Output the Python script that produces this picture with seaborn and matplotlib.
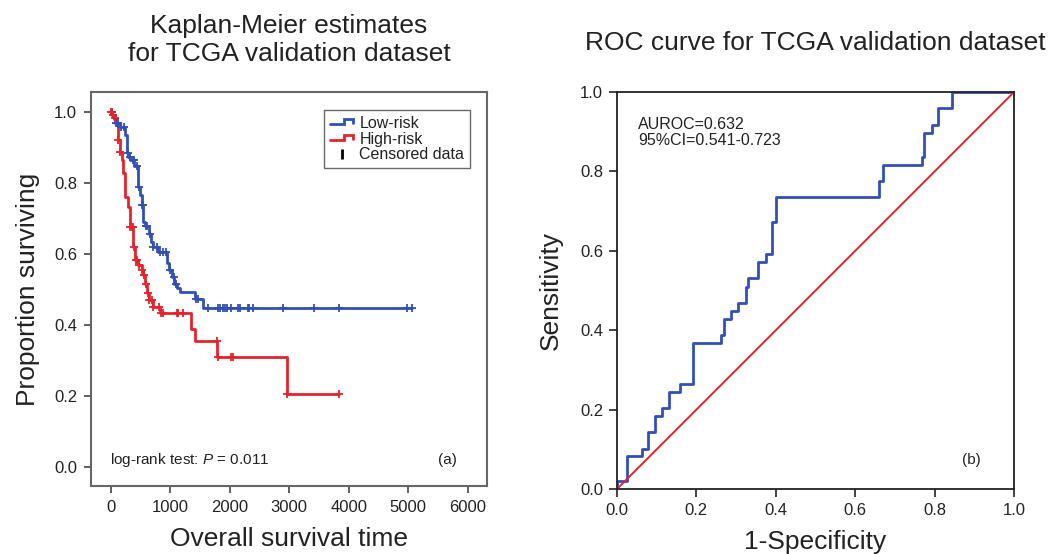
import numpy as np
import pandas as pd
import matplotlib
matplotlib.use("Agg")
import matplotlib.pyplot as plt
from matplotlib.lines import Line2D
from matplotlib.legend_handler import HandlerBase
import seaborn as sns

# ---------- DATA ----------
# Kaplan-Meier step points: time, survival level from that time on
low_times = [0, 20, 50, 80, 150, 240, 268, 300, 330, 400, 465, 492, 521, 548, 580,
             649, 677, 716, 800, 951, 985, 1025, 1065, 1120, 1166, 1420, 1555, 5059]
low_surv = [1.0, 0.99, 0.98, 0.968, 0.958, 0.935, 0.885, 0.872, 0.866, 0.848, 0.79,
            0.765, 0.737, 0.69, 0.68, 0.655, 0.635, 0.62, 0.605, 0.575, 0.555, 0.536,
            0.517, 0.505, 0.493, 0.473, 0.448, 0.448]
low_censored = [17, 44, 89, 128, 168, 229, 296, 324, 370, 397, 437, 481, 521, 538, 593,
                615, 660, 716, 773, 829, 884, 924, 997, 1064, 1097, 1434, 1472, 1630,
                1797, 1835, 1891, 1924, 1948, 2015, 2143, 2171, 2301, 2328, 2385, 2890,
                3422, 3837, 4975, 5059]

high_times = [0, 30, 70, 100, 128, 156, 185, 212, 240, 296, 324, 380, 408, 464, 521,
              548, 577, 610, 650, 716, 830, 1344, 1417, 1792, 2958, 3837]
high_surv = [1.0, 0.99, 0.983, 0.963, 0.921, 0.888, 0.865, 0.827, 0.761, 0.733, 0.677,
             0.62, 0.583, 0.569, 0.555, 0.541, 0.517, 0.489, 0.47, 0.452, 0.433, 0.39,
             0.356, 0.309, 0.206, 0.206]
high_censored = [10, 20, 45, 72, 128, 156, 324, 352, 370, 395, 420, 437, 481, 525, 555,
                 590, 620, 650, 690, 720, 817, 845, 874, 1109, 1137, 1210, 1781, 1800,
                 2017, 2050, 2960, 3837]

# ROC corner points (1-specificity, sensitivity)
roc_fpr = [0.0, 0.0, 0.026, 0.062, 0.079, 0.096, 0.114, 0.132, 0.159, 0.192, 0.262,
           0.270, 0.287, 0.306, 0.324, 0.331, 0.356, 0.375, 0.391, 0.400, 0.661, 0.669,
           0.767, 0.774, 0.793, 0.809, 0.845, 1.0]
roc_tpr = [0.0, 0.02, 0.082, 0.102, 0.143, 0.184, 0.204, 0.245, 0.265, 0.367, 0.388,
           0.429, 0.449, 0.469, 0.51, 0.531, 0.571, 0.592, 0.673, 0.735, 0.776, 0.816,
           0.837, 0.898, 0.918, 0.959, 1.0, 1.0]
chance = [0.0, 1.0]

BLUE = "#3050B8"
RED = "#E8222B"
TEXT = "#222222"


def surv_at(times, surv, t):
    idx = np.searchsorted(times, t, side="right") - 1
    return np.asarray(surv)[idx]


class StepHandler(HandlerBase):
    # little step-shaped legend icon, like the original figure
    def create_artists(self, legend, orig_handle, xdescent, ydescent, width, height, fontsize, trans):
        xs = np.array([0.0, 0.6, 0.6, 0.95, 0.95]) * width - xdescent
        ys = np.array([0.3, 0.3, 0.75, 0.75, 0.45]) * height - ydescent
        line = Line2D(xs, ys, color=orig_handle.get_color(), lw=2.0, solid_joinstyle="miter")
        line.set_transform(trans)
        return [line]


sns.set_style("ticks")
plt.rcParams["font.family"] = ["Liberation Sans", "DejaVu Sans"]
plt.rcParams["mathtext.fontset"] = "custom"
plt.rcParams["mathtext.rm"] = "Liberation Sans"
plt.rcParams["mathtext.it"] = "Liberation Sans:italic"
plt.rcParams["text.color"] = TEXT
plt.rcParams["axes.labelcolor"] = TEXT
plt.rcParams["xtick.color"] = TEXT
plt.rcParams["ytick.color"] = TEXT

fig = plt.figure(figsize=(10.52, 5.54), dpi=100)
ax1 = fig.add_axes([0.0865, 0.1227, 0.3764, 0.7112])
ax2 = fig.add_axes([0.5865, 0.1173, 0.3774, 0.7166])

# ---------- (a) Kaplan-Meier ----------
km_df = pd.concat([
    pd.DataFrame({"time": low_times, "surv": low_surv, "group": "Low-risk"}),
    pd.DataFrame({"time": high_times, "surv": high_surv, "group": "High-risk"}),
])
sns.lineplot(data=km_df, x="time", y="surv", hue="group",
             palette={"Low-risk": BLUE, "High-risk": RED},
             drawstyle="steps-post", estimator=None, sort=False,
             legend=False, lw=2.0, ax=ax1)

ax1.plot(low_censored, surv_at(low_times, low_surv, low_censored), ls="none",
         marker="+", ms=6, mew=1.3, color=BLUE)
ax1.plot(high_censored, surv_at(high_times, high_surv, high_censored), ls="none",
         marker="+", ms=6, mew=1.3, color=RED)

ax1.set_xlim(-330, 6325)
ax1.set_ylim(-0.053, 1.056)
ax1.set_xticks(np.arange(0, 6001, 1000))
ax1.set_yticks(np.arange(0, 1.01, 0.2))
ax1.yaxis.set_major_formatter(matplotlib.ticker.FormatStrFormatter("%.1f"))
ax1.set_xlabel("Overall survival time", fontsize=19, labelpad=9)
ax1.set_ylabel("Proportion surviving", fontsize=19, labelpad=10)
ax1.set_title("Kaplan-Meier estimates\nfor TCGA validation dataset",
              fontsize=19, linespacing=1.25, pad=22)
for sp in ax1.spines.values():
    sp.set_visible(True)
    sp.set_color("#666666")
    sp.set_linewidth(1.5)
ax1.tick_params(labelsize=12, length=5, width=1.2, direction="out", color="#444444", pad=5)

handles = [Line2D([], [], color=BLUE), Line2D([], [], color=RED),
           Line2D([], [], ls="none", marker="|", ms=7, mew=2, color="black")]
leg = ax1.legend(handles, ["Low-risk", "High-risk", "Censored data"],
                 handler_map={handles[0]: StepHandler(), handles[1]: StepHandler()},
                 loc="upper right", bbox_to_anchor=(0.957, 0.954), borderaxespad=0,
                 fontsize=11.5, frameon=True, fancybox=False, handlelength=1.5,
                 handletextpad=0.35, labelspacing=0.05, borderpad=0.35)
leg.get_frame().set_edgecolor("#444444")
leg.get_frame().set_linewidth(1.0)

ax1.text(0.048, 0.066, r"log-rank test: $\it{P}$ = 0.011", transform=ax1.transAxes,
         fontsize=11, va="center", ha="left")
ax1.text(0.90, 0.066, "(a)", transform=ax1.transAxes, fontsize=11, va="center", ha="center")

# ---------- (b) ROC ----------
sns.lineplot(x=roc_fpr, y=roc_tpr, drawstyle="steps-post", estimator=None, sort=False,
             color=BLUE, lw=2.0, ax=ax2)
sns.lineplot(x=chance, y=chance, estimator=None, sort=False, color=RED, lw=1.4, ax=ax2)

ax2.set_xlim(0, 1)
ax2.set_ylim(0, 1)
ax2.set_xticks(np.arange(0, 1.01, 0.2))
ax2.set_yticks(np.arange(0, 1.01, 0.2))
ax2.xaxis.set_major_formatter(matplotlib.ticker.FormatStrFormatter("%.1f"))
ax2.yaxis.set_major_formatter(matplotlib.ticker.FormatStrFormatter("%.1f"))
ax2.set_xlabel("1-Specificity", fontsize=19, labelpad=9)
ax2.set_ylabel("Sensitivity", fontsize=19, labelpad=12)
ax2.set_title("ROC curve for TCGA validation dataset", fontsize=19, pad=30)
for sp in ax2.spines.values():
    sp.set_visible(True)
    sp.set_color("#222222")
    sp.set_linewidth(1.3)
ax2.tick_params(labelsize=12, length=6, width=1.2, direction="out", color="#222222", pad=4)

ax2.text(0.053, 0.937, "AUROC=0.632\n95%CI=0.541-0.723", transform=ax2.transAxes,
         fontsize=11.5, va="top", ha="left", linespacing=1.1)
ax2.text(0.892, 0.073, "(b)", transform=ax2.transAxes, fontsize=11, va="center", ha="center")

fig.savefig("out.png", dpi=100)
